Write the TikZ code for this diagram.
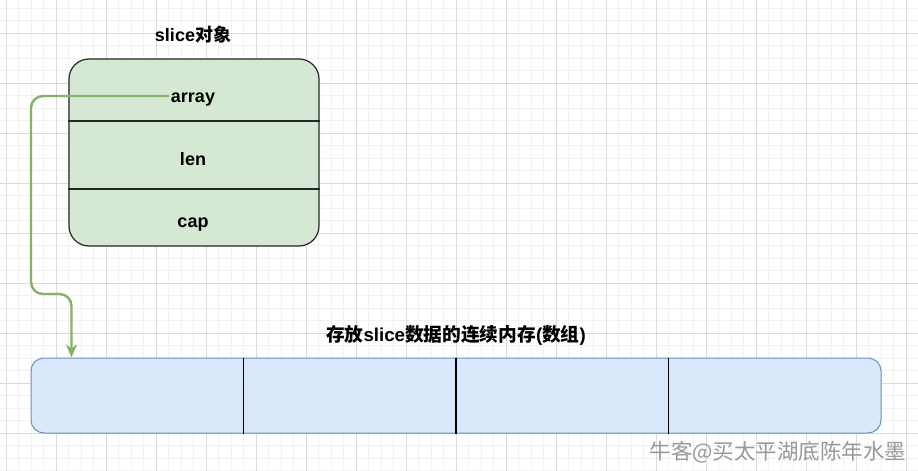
\documentclass[tikz,border=0pt]{standalone}
\usepackage{fontspec}
\setmainfont{Liberation Sans}
\newfontfamily\cjk{Noto Sans CJK SC}
\usetikzlibrary{arrows.meta,positioning,calc}
\definecolor{gridmajor}{HTML}{DADADA}
\definecolor{gridminor}{HTML}{F1F1F1}
\definecolor{slicefill}{HTML}{D5E8D4}
\definecolor{slicegreen}{HTML}{82B366}
\definecolor{memfill}{HTML}{DAE8FC}
\definecolor{memline}{HTML}{6C8EBF}

\begin{document}
\begin{tikzpicture}[x=1pt,y=-1pt,
  fieldtext/.style={font=\fontsize{18}{20}\selectfont\bfseries,inner sep=2pt,anchor=base},
  slicebox/.style={draw=black!85,fill=slicefill,line width=1.2pt,rounded corners=20pt,
    minimum width=250pt,minimum height=187pt},
  membox/.style={draw=memline,fill=memfill,line width=1pt,rounded corners=13pt,
    minimum width=850pt,minimum height=75pt},
  link/.style={draw=slicegreen,line width=2.4pt,rounded corners=12pt,
    -{Stealth[length=13pt,width=11pt,inset=4pt]}}]
  \useasboundingbox (0,0) rectangle (918,471);
  \fill[white] (0,0) rectangle (918,471);
  % grid
  \foreach \k in {0,...,73} \draw[gridminor,line width=.8pt] ({6+12.5*\k},0) -- ({6+12.5*\k},471);
  \foreach \k in {0,...,37} \draw[gridminor,line width=.8pt] (0,{8+12.5*\k}) -- (918,{8+12.5*\k});
  \foreach \k in {0,...,18} \draw[gridmajor,line width=1pt] ({6+50*\k},0) -- ({6+50*\k},471);
  \foreach \k in {0,...,8} \draw[gridmajor,line width=1pt] (0,{33+50*\k}) -- (918,{33+50*\k});

  \node[slicebox] (slice) at (194,152.5) {};
  \foreach \y in {121,189}
    \draw[black!85,line width=1.2pt] (slice.west |- 0,\y) -- (slice.east |- 0,\y);
  \node[fieldtext] (slicetitle) at (193,41) {slice{\cjk 对象}};
  \node[fieldtext] (array) at (193,102) {array};
  \node[fieldtext] (len) at (193,165) {len};
  \node[fieldtext] (cap) at (193,227) {cap};

  \node[membox] (mem) at (456,395.5) {};
  \foreach \i in {1,2,3}
    \draw[black,line width=1.2pt] ($(mem.north west)!\i/4!(mem.north east)$) -- ($(mem.south west)!\i/4!(mem.south east)$);
  \node[fieldtext,font=\fontsize{18.7}{21}\selectfont\bfseries] (memtitle) at (456,341)
    {{\cjk 存放}slice{\cjk 数据的连续内存}({\cjk 数组})};

  \draw[link] (array.west |- 0,96) -| (31,294) -| ([xshift=41pt]mem.north west);

  \node[text=black!40,font=\cjk\fontsize{21.5}{24}\selectfont] (mark) at (778,452) {牛客@买太平湖底陈年水墨};
\end{tikzpicture}
\end{document}
